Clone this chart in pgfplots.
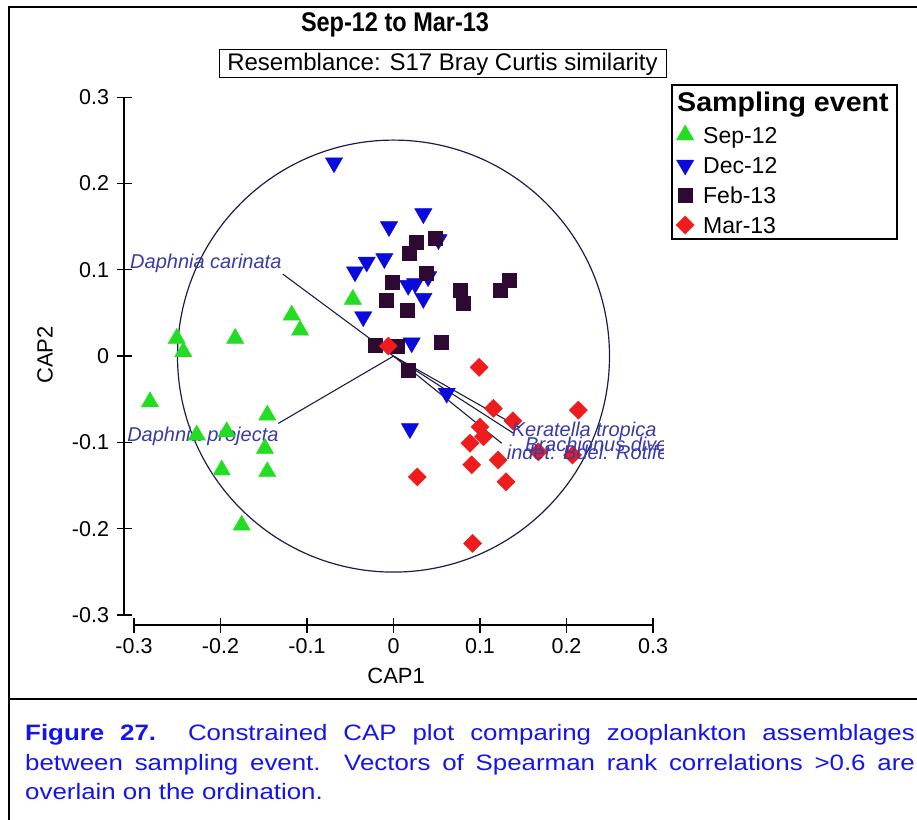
\documentclass[border=0pt]{standalone}
\usepackage{pgfplots}
\usepackage{pgfplotstable}
\pgfplotsset{compat=1.18}
\usepackage{fontspec}
\setmainfont{Liberation Sans}
\usepackage{graphicx}

\definecolor{sepc}{HTML}{22DD22}
\definecolor{decc}{HTML}{0A0ADC}
\definecolor{febc}{HTML}{2E0A32}
\definecolor{marc}{HTML}{EE1C1C}
\definecolor{vecline}{HTML}{1C1C50}
\definecolor{veclab}{HTML}{3A3AA8}
\definecolor{capblue}{HTML}{1414F0}

\newcommand{\fs}[1]{\fontsize{#1}{#1}\selectfont}

% CAP scores by sampling event
\pgfplotstableread{
x y
-0.2506 0.0205
-0.2430 0.0050
-0.1830 0.0205
-0.1177 0.0475
-0.1080 0.0300
-0.0470 0.0657
-0.2815 -0.0530
-0.1459 -0.0684
-0.2275 -0.0915
-0.1929 -0.0877
-0.1486 -0.1070
-0.1986 -0.1320
-0.1459 -0.1340
-0.1755 -0.1960
}\sepdata

\pgfplotstableread{
x y
-0.0688 0.2240
0.0345 0.1650
-0.0052 0.1500
0.0520 0.1350
-0.0106 0.1130
-0.0310 0.1090
-0.0445 0.0977
0.0400 0.0920
0.0170 0.0820
0.0250 0.0840
0.0345 0.0668
-0.0350 0.0456
0.0210 0.0154
0.0615 -0.0430
0.0190 -0.0840
}\decdata

\pgfplotstableread{
x y
0.0268 0.1320
0.0480 0.1370
0.0183 0.1190
0.0376 0.0958
-0.0010 0.0860
0.0769 0.0765
0.0807 0.0618
0.1230 0.0765
0.1340 0.0880
-0.0087 0.0650
0.0153 0.0533
-0.0214 0.0127
0.0037 0.0116
0.0557 0.0159
0.0170 -0.0160
}\febdata

\pgfplotstableread{
x y
-0.0060 0.0116
0.0990 -0.0130
0.1154 -0.0606
0.1380 -0.0750
0.2137 -0.0626
0.1000 -0.0820
0.1040 -0.0935
0.0884 -0.1010
0.1674 -0.1110
0.2070 -0.1147
0.1210 -0.1205
0.0904 -0.1260
0.0275 -0.1400
0.1300 -0.1456
0.0915 -0.2170
}\mardata

\pgfplotsset{
  lgmark/.style={legend image code/.code={%
    \path[draw=none, fill=none] (-10pt,-10pt) rectangle (10pt,10pt);
    \draw[##1] plot coordinates {(0pt,0pt)};}},
}

\begin{document}
\begin{tikzpicture}

% data axis with the CAP2 axis
\begin{axis}[
  at={(124pt,204pt)}, anchor=south west,
  x=865pt, y=863pt,
  xmin=-0.31156, xmax=0.3, ymin=-0.3, ymax=0.3,
  axis x line=none, axis y line*=left,
  clip=false,
  ytick={-0.3,-0.2,-0.1,0,0.1,0.2,0.3},
  yticklabels={-0.3,-0.2,-0.1,0,0.1,0.2,0.3},
  ytick align=center,
  major tick length=15pt,
  every tick/.style={black, line width=1.2pt},
  axis line style={black, line width=1.2pt, -},
  yticklabel style={font=\fs{21.5}, anchor=east, xshift=-4pt},
  ylabel={CAP2},
  ylabel style={font=\fs{22}, at={(axis description cs:-0.1493,0.502)}, anchor=center},
  legend style={at={(axis cs:0.3254,0.268)}, anchor=north west, draw=none, fill=none,
    font=\fs{23}, inner sep=0pt, row sep=10pt, column sep=8pt,
    nodes={inner sep=0pt, text height=16.5pt, text depth=0pt}},
  legend cell align=left,
]
\addplot[only marks, color=sepc, mark=triangle*, mark size=10pt, lgmark] table {\sepdata};
\addlegendentry{Sep-12}
\addplot[only marks, color=decc, mark=triangle*, mark size=10pt, mark options={rotate=180}, lgmark] table {\decdata};
\addlegendentry{Dec-12}
\addplot[only marks, color=febc, mark=square*, mark size=7pt, lgmark] table {\febdata};
\addlegendentry{Feb-13}
\addplot[only marks, color=marc, mark=square*, mark size=6.4pt, mark options={rotate=45}, lgmark] table {\mardata};
\addlegendentry{Mar-13}

% reference circle and correlation vectors
\draw[vecline, line width=1.2pt] (axis cs:0,0) circle[radius=216pt];
\addplot[forget plot, vecline, line width=1.1pt] coordinates {(0,0) (-0.128,0.095)};
\addplot[forget plot, vecline, line width=1.1pt] coordinates {(0,0) (-0.1332,-0.078)};
\addplot[forget plot, vecline, line width=1.1pt] coordinates {(0,0) (0.146,-0.083)};
\addplot[forget plot, vecline, line width=1.1pt] coordinates {(0,0) (0.138,-0.089)};
\addplot[forget plot, vecline, line width=1.1pt] coordinates {(0,0) (0.125,-0.101)};
\node[anchor=base west, text=veclab, font=\fs{20}\itshape, inner sep=0pt] at (axis cs:-0.3046,0.1016) {Daphnia carinata};
\node[anchor=base west, text=veclab, font=\fs{20}\itshape, inner sep=0pt] at (axis cs:-0.308,-0.0985) {Daphnia projecta};
\end{axis}

% CAP1 axis, set slightly below the data area
\begin{axis}[
  at={(134pt,194pt)}, anchor=south west,
  x=865pt, y=863pt,
  xmin=-0.3, xmax=0.3, ymin=-0.31159, ymax=0.3,
  axis y line=none, axis x line*=bottom,
  xtick={-0.3,-0.2,-0.1,0,0.1,0.2,0.3},
  xticklabels={-0.3,-0.2,-0.1,0,0.1,0.2,0.3},
  xtick align=center,
  major tick length=15pt,
  every tick/.style={black, line width=1.2pt},
  axis line style={black, line width=1.2pt, -},
  xticklabel style={font=\fs{21.5}, anchor=north, yshift=-2pt},
  xlabel={CAP1},
  xlabel style={font=\fs{22}, at={(axis description cs:0.505,-0.0966)}, anchor=center},
]
\end{axis}

\begin{scope}[x=1pt, y=1pt]
% vector labels on the right, cut at the plot edge
\begin{scope}
\clip (380,300) rectangle (663,420);
\node[anchor=base west, text=veclab, font=\fs{20}\itshape, inner sep=0pt] at (511.7,382.3) {Keratella tropica};
\node[anchor=base west, text=veclab, font=\fs{20}\itshape, inner sep=0pt] at (525,367.3) {Brachionus diversicornis};
\node[anchor=base west, text=veclab, font=\fs{20}\itshape, inner sep=0pt] at (506.7,359) {indet. Bdel. Rotifera};
\end{scope}

% legend frame and heading
\draw[line width=1.2pt] (672,734) rectangle (897,580);
\node[anchor=base west, inner sep=0pt, font=\fs{27}\bfseries] at (677,707) {\scalebox{1.06}[1]{Sampling event}};

% titles
\node[font=\fs{27}\bfseries] at (395,794) {\scalebox{0.87}[1]{Sep-12 to Mar-13}};
\node[draw, line width=1pt, minimum width=447pt, minimum height=28pt, inner sep=0pt, font=\fs{24}] at (442.5,755) {Resemblance: S17 Bray Curtis similarity};

% figure frame
\draw[line width=2.6pt] (9,-5) -- (9,812) -- (925,812);
\draw[line width=2.6pt] (9,120) -- (925,120);

% caption
\begin{scope}[every node/.style={anchor=base west, inner sep=0pt, text=capblue, font=\fs{22.3}}]
\node at (25,79) {\scalebox{1.16}[1]{\makebox[767pt][s]{\textbf{Figure 27.}\ \ Constrained CAP plot comparing zooplankton assemblages}}};
\node at (25,49) {\scalebox{1.16}[1]{\makebox[767pt][s]{between sampling event.\ \ Vectors of Spearman rank correlations >0.6 are}}};
\node at (25,20) {\scalebox{1.16}[1]{overlain on the ordination.}};
\end{scope}
\end{scope}

\pgfresetboundingbox
\path[use as bounding box] (0pt,0pt) rectangle (917pt,819pt);
\end{tikzpicture}
\end{document}
